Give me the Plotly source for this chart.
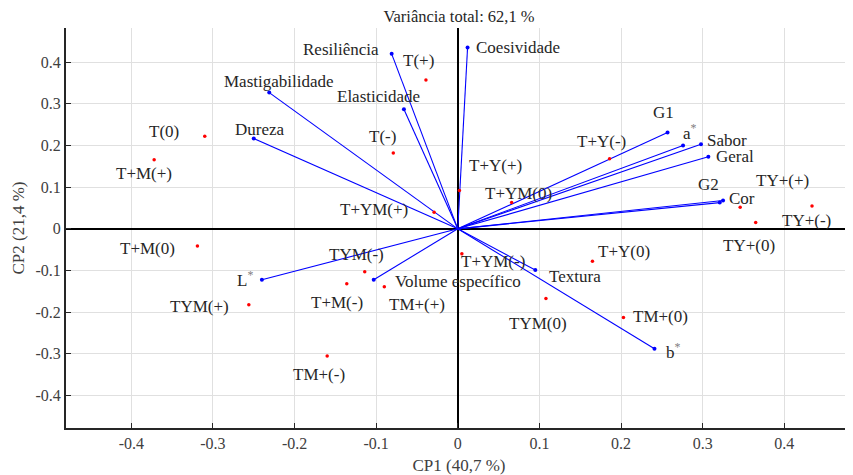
import plotly.graph_objects as go

# ---------------- data ----------------
var_names = ["Resiliência", "Coesividade", "Mastigabilidade", "Elasticidade", "Dureza",
             "G1", "a*", "Sabor", "Geral", "G2", "Cor", "Textura", "b*", "L*",
             "Volume específico"]
var_cp1 = [-0.081, 0.012, -0.231, -0.066, -0.250, 0.257, 0.276, 0.298, 0.307, 0.321,
           0.325, 0.095, 0.241, -0.240, -0.103]
var_cp2 = [0.420, 0.435, 0.327, 0.287, 0.217, 0.231, 0.200, 0.203, 0.173, 0.063,
           0.068, -0.099, -0.288, -0.122, -0.122]

sample_names = ["T(+)", "T(0)", "T+M(+)", "T(-)", "T+YM(+)", "T+Y(+)", "T+YM(0)",
                "T+Y(-)", "TY+(+)", "TY+(-)", "TY+(0)", "T+Y(0)", "T+YM(-)", "TYM(0)",
                "TM+(0)", "T+M(0)", "TYM(-)", "T+M(-)", "TM+(+)", "TYM(+)", "TM+(-)"]
sample_cp1 = [-0.039, -0.310, -0.372, -0.079, -0.029, 0.002, 0.066, 0.186, 0.434,
              0.365, 0.346, 0.165, 0.005, 0.108, 0.203, -0.319, -0.114, -0.136,
              -0.090, -0.256, -0.160]
sample_cp2 = [0.357, 0.222, 0.166, 0.182, 0.040, 0.092, 0.063, 0.168, 0.055, 0.015,
              0.052, -0.078, -0.060, -0.167, -0.213, -0.041, -0.103, -0.132, -0.139,
              -0.182, -0.305]

tick_vals = [-0.4, -0.3, -0.2, -0.1, 0, 0.1, 0.2, 0.3, 0.4]
tick_text = ["-0.4", "-0.3", "-0.2", "-0.1", "0", "0.1", "0.2", "0.3", "0.4"]

title_text = "Variância total: 62,1 %"
x_title = "CP1 (40,7 %)"
y_title = "CP2 (21,4 %)"

# ---------------- styling: label placement (pixel offsets) ----------------
var_label_style = {
    "Resiliência": ("right", -11, 4),
    "Coesividade": ("left", 6, 0),
    "Mastigabilidade": ("center", 10, 11),
    "Elasticidade": ("center", -25, 13),
    "Dureza": ("center", 6, 9),
    "G1": ("center", -4, 20),
    "a*": ("left", -2, 14),
    "Sabor": ("left", 4, 4),
    "Geral": ("left", 6, 0),
    "G2": ("center", -11, 18),
    "Cor": ("left", 4, 2),
    "Textura": ("left", 12, -6),
    "b*": ("left", 10, -2),
    "L*": ("right", -7, 1),
    "Volume específico": ("left", 19, -2),
}
sample_label_style = {
    "T(+)": (-7, 20), "T(0)": (-41, 5), "T+M(+)": (-10, -14), "T(-)": (-11, 17),
    "T+YM(+)": (-60, 3), "T+Y(+)": (36, 25), "T+YM(0)": (7, 9), "T+Y(-)": (-8, 17),
    "TY+(+)": (-30, 25), "TY+(-)": (51, 2), "TY+(0)": (9, -38), "T+Y(0)": (32, 10),
    "T+YM(-)": (31, -8), "TYM(0)": (-8, -25), "TM+(0)": (37, 1), "T+M(0)": (-50, -3),
    "TYM(-)": (-8, 17), "T+M(-)": (-10, -19), "TM+(+)": (33, -18), "TYM(+)": (-49, -2),
    "TM+(-)": (-8, -19),
}

FONT = "Liberation Serif"
TXT = "#262626"
LABEL_SIZE = 17


def fmt(name):
    if name.endswith("*"):
        return name[:-1] + "<sup><span style='color:#808080'>*</span></sup>"
    return name


fig = go.Figure()

# loading vectors
lx, ly = [], []
for x, y in zip(var_cp1, var_cp2):
    lx += [0, x, None]
    ly += [0, y, None]
fig.add_trace(go.Scatter(x=lx, y=ly, mode="lines",
                         line=dict(color="#0000ff", width=1.1),
                         hoverinfo="skip", showlegend=False))
fig.add_trace(go.Scatter(x=var_cp1, y=var_cp2, mode="markers",
                         marker=dict(color="#0000ff", size=4),
                         text=var_names, showlegend=False))
# sample scores
fig.add_trace(go.Scatter(x=sample_cp1, y=sample_cp2, mode="markers",
                         marker=dict(color="#ff0000", size=3.5),
                         text=sample_names, showlegend=False))

annotations = []
for n, x, y in zip(var_names, var_cp1, var_cp2):
    anc, dx, dy = var_label_style[n]
    annotations.append(dict(x=x, y=y, text=fmt(n), showarrow=False, xanchor=anc,
                            yanchor="middle", xshift=dx, yshift=dy,
                            font=dict(family=FONT, size=LABEL_SIZE, color=TXT)))
for n, x, y in zip(sample_names, sample_cp1, sample_cp2):
    dx, dy = sample_label_style[n]
    annotations.append(dict(x=x, y=y, text=n, showarrow=False, xanchor="center",
                            yanchor="middle", xshift=dx, yshift=dy,
                            font=dict(family=FONT, size=LABEL_SIZE, color=TXT)))

axis_common = dict(
    tickvals=tick_vals, ticktext=tick_text,
    showgrid=True, gridcolor="#e0e0e0", gridwidth=1,
    zeroline=True, zerolinecolor="#000000", zerolinewidth=1.6,
    showline=True, linecolor="#262626", linewidth=2, mirror=False,
    ticks="inside", ticklen=5, tickcolor="#262626", tickwidth=1,
    tickfont=dict(family=FONT, size=16, color="#404040"),
)

# page body has an 8 px margin: margins compensate so the plot lands where the reference has it
fig.update_layout(
    width=853, height=475,
    margin=dict(l=58, r=9, t=20, b=55),
    font=dict(family=FONT, color=TXT),
    paper_bgcolor="white", plot_bgcolor="white",
    title=dict(text=title_text, x=0.5, xref="paper", y=1 - 8 / 475,
               yref="container", xanchor="center", yanchor="middle",
               font=dict(family=FONT, size=16.5, color=TXT)),
    xaxis=dict(range=[-0.48, 0.483],
               title=dict(text=x_title, standoff=8,
                          font=dict(family=FONT, size=17, color="#404040")),
               **axis_common),
    yaxis=dict(range=[-0.478, 0.482],
               title=dict(text=y_title, standoff=7,
                          font=dict(family=FONT, size=17, color="#404040")),
               **axis_common),
    annotations=annotations,
    showlegend=False,
)

fig.write_html("out.html")
